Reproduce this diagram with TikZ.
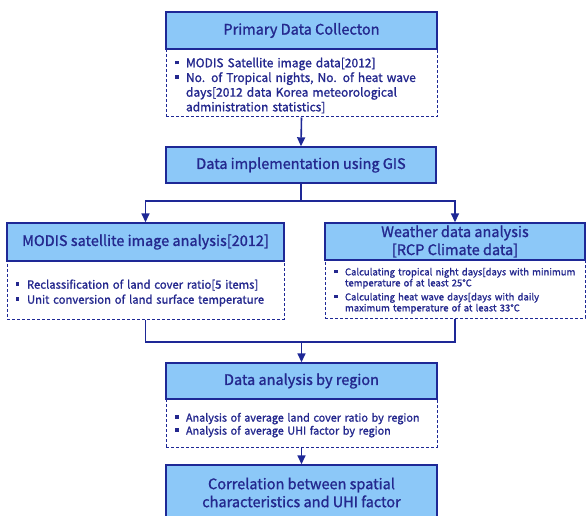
\documentclass[tikz,border=0pt]{standalone}
\usepackage{fontspec}
\setmainfont{Noto Sans CJK KR}[FakeBold=1.2]
\usetikzlibrary{arrows.meta}
\definecolor{navy}{HTML}{1E2896}
\definecolor{txt}{HTML}{24288E}
\definecolor{hfill}{HTML}{8CC8F8}
\newcommand\bitem[1]{\par\noindent\hangindent=11pt\hangafter=1\makebox[11pt][l]{\rule[0.25em]{3.5pt}{3.5pt}}#1\par}
\tikzset{
 hdr/.style={draw=navy, line width=1.4pt, fill=hfill, text=txt, inner sep=0pt, font=\fontsize{14.5}{18}\selectfont, align=center},
 det/.style={draw=navy, line width=1pt, dash pattern=on 3pt off 2pt, fill=white, text=txt, inner xsep=9pt, inner ysep=0pt, execute at begin node=\raggedright},
 link/.style={draw=navy, line width=1.6pt},
 arr/.style={link, -{Triangle[width=8pt,length=9pt]}},
}
\begin{document}
\begin{tikzpicture}[x=1pt,y=-1pt]
\useasboundingbox (0,0) rectangle (587,516);
\clip (0,0) rectangle (587,516);
% top
\node[det, minimum width=271pt, minimum height=68pt, text width=253pt, font=\fontsize{12}{14.7}\selectfont] (d1) at (301.5,83)
 {\bitem{MODIS Satellite image data[2012]}\bitem{No. of Tropical nights, No. of heat wave\newline days[2012 data Korea meteorological\newline administration statistics]}};
\node[hdr, minimum width=271pt, minimum height=37pt] (h1) at (301.5,30.5) {Primary Data Collecton};
% GIS
\node[hdr, minimum width=270pt, minimum height=36pt] (gis) at (301,165) {Data implementation using GIS};
% MODIS
\node[det, minimum width=277pt, minimum height=58pt, text width=259pt, font=\fontsize{11.3}{15}\selectfont] (md) at (145.5,290)
 {\bitem{Reclassification of land cover ratio[5 items]}\bitem{Unit conversion of land surface temperature}};
\node[hdr, minimum width=277pt, minimum height=38pt] (mh) at (145.5,242) {MODIS satellite image analysis[2012]};
% Weather
\node[det, minimum width=260pt, minimum height=58pt, text width=242pt, font=\fontsize{9.5}{11}\selectfont] (wd) at (455,289)
 {\bitem{Calculating tropical night days[days with minimum\newline temperature of at least 25℃}\vspace{3pt}\bitem{Calculating heat wave days[days with daily\newline maximum temperature of at least 33℃}};
\node[hdr, minimum width=260pt, minimum height=37pt] (wh) at (455,241.5) {Weather data analysis\\{[}RCP Climate data{]}};
% region
\node[det, minimum width=271pt, minimum height=48pt, text width=253pt, font=\fontsize{10.8}{13}\selectfont] (rd) at (301.5,423)
 {\bitem{Analysis of average land cover ratio by region}\bitem{Analysis of average UHI factor by region}};
\node[hdr, minimum width=271pt, minimum height=36pt] (rh) at (301.5,381) {Data analysis by region};
% correlation
\node[hdr, minimum width=271pt, minimum height=55pt] (cor) at (301.5,492.5) {Correlation between spatial\\characteristics and UHI factor};
% connectors
\draw[arr] (d1.south) -- (gis.north);
\coordinate (split) at (301,201);
\draw[link] (gis.south) -- (split);
\draw[arr] (split) -| (mh.north);
\draw[arr] (split) -| (wh.north);
\coordinate (merge) at (301.5,342);
\draw[link] (md.south) |- (merge);
\draw[link] (wd.south) |- (merge);
\draw[arr] (merge) -- (rh.north);
\draw[arr] (rd.south) -- (cor.north);
\end{tikzpicture}
\end{document}
